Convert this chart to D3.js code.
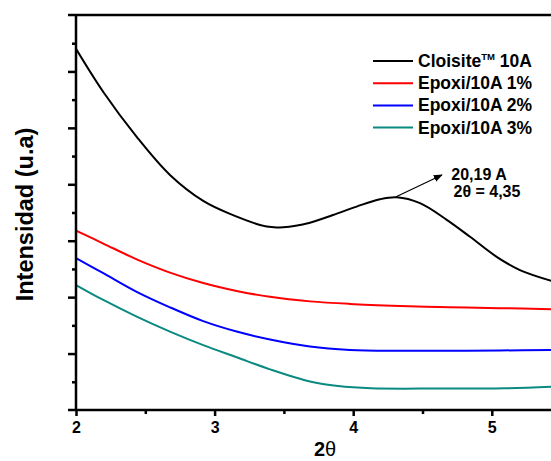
<!DOCTYPE html>
<html><head><meta charset="utf-8">
<script src="https://cdn.jsdelivr.net/npm/d3@7"></script>
<style>
html,body{margin:0;padding:0;background:#fff;}
svg{display:block;font-family:"Liberation Sans",Arial,sans-serif;}
</style></head>
<body><svg id="c" width="551" height="461"></svg>
<script>
// ---- data ----
const seriesNames = ["Cloisite™ 10A", "Epoxi/10A 1%", "Epoxi/10A 2%", "Epoxi/10A 3%"];
const seriesColors = ["#000000", "#ff0000", "#0000ff", "#0a8a80"];
const cloisiteX = [2.0, 2.197, 2.438, 2.678, 2.918, 3.111, 3.376, 3.494, 3.688, 3.854, 4.025, 4.193, 4.314, 4.482, 4.675, 4.843, 5.035, 5.203, 5.45];
const cloisiteY = [12.8, 11.27, 9.68, 8.33, 7.41, 6.95, 6.50, 6.48, 6.64, 6.91, 7.21, 7.47, 7.54, 7.33, 6.74, 6.14, 5.43, 4.96, 4.55];
const epoxi1X = [2.0, 2.197, 2.438, 2.678, 2.918, 3.159, 3.40, 3.688, 3.977, 4.338, 4.698, 5.059, 5.45];
const epoxi1Y = [6.36, 5.90, 5.34, 4.87, 4.50, 4.22, 4.01, 3.85, 3.76, 3.69, 3.64, 3.61, 3.57];
const epoxi2X = [2.0, 2.197, 2.438, 2.678, 2.918, 3.159, 3.40, 3.688, 3.977, 4.338, 4.698, 5.059, 5.45];
const epoxi2Y = [5.38, 4.85, 4.19, 3.64, 3.15, 2.78, 2.50, 2.25, 2.13, 2.10, 2.10, 2.11, 2.13];
const epoxi3X = [2.0, 2.197, 2.438, 2.678, 2.918, 3.159, 3.40, 3.688, 3.89, 4.13, 4.61, 5.09, 5.45];
const epoxi3Y = [4.43, 3.90, 3.31, 2.78, 2.30, 1.87, 1.44, 1.01, 0.85, 0.77, 0.76, 0.77, 0.83];
const xTicks = [2, 3, 4, 5];
const xMinorTicks = [2.5, 3.5, 4.5];
const yMajorTicks = [2, 4, 6, 8, 10, 12];
const yMinorTicks = [1, 3, 5, 7, 9, 11, 13];
const peakPoint = [4.31, 7.56];
const arrowEnd = [4.64, 8.33];
const annotLines = ["20,19 A", "2θ = 4,35"];

// ---- layout ----
const svg = d3.select("#c");
const x = d3.scaleLinear().domain([2, 5.5]).range([76, 76 + 3.5 * 138.6]);
const y = d3.scaleLinear().domain([0, 14]).range([410, 15]);
const W = 551;

svg.append("defs").append("clipPath").attr("id", "clip")
  .append("rect").attr("x", x(2)).attr("y", y(14)).attr("width", W - x(2)).attr("height", y(0) - y(14));

// curves
const series = [
  cloisiteX.map((v, i) => [v, cloisiteY[i]]),
  epoxi1X.map((v, i) => [v, epoxi1Y[i]]),
  epoxi2X.map((v, i) => [v, epoxi2Y[i]]),
  epoxi3X.map((v, i) => [v, epoxi3Y[i]])
];
const line = d3.line().x(d => x(d[0])).y(d => y(d[1])).curve(d3.curveCatmullRom.alpha(0.5));
const g = svg.append("g").attr("clip-path", "url(#clip)");
series.forEach((s, i) => {
  g.append("path").attr("d", line(s)).attr("fill", "none")
    .attr("stroke", seriesColors[i]).attr("stroke-width", 2);
});

// axes
const xAxis = svg.append("g").attr("transform", `translate(0,${y(0)})`)
  .call(d3.axisBottom(x).tickValues(xTicks).tickSize(6).tickPadding(6).tickFormat(d3.format("d")));
xAxis.select(".domain").remove();
xAxis.selectAll(".tick line").attr("stroke-width", 2.5);
xAxis.selectAll("text").attr("font-size", 16).attr("font-weight", "bold").attr("fill", "#000");
svg.append("g").attr("transform", `translate(0,${y(0)})`)
  .call(d3.axisBottom(x).tickValues(xMinorTicks).tickSize(4).tickFormat(""))
  .call(a => a.select(".domain").remove())
  .selectAll(".tick line").attr("stroke-width", 2.5);

const yAxis = svg.append("g").attr("transform", `translate(${x(2)},0)`)
  .call(d3.axisLeft(y).tickValues(yMajorTicks).tickSize(8).tickFormat(""));
yAxis.select(".domain").remove();
yAxis.selectAll(".tick line").attr("stroke-width", 2.5);
svg.append("g").attr("transform", `translate(${x(2)},0)`)
  .call(d3.axisLeft(y).tickValues(yMinorTicks).tickSize(4).tickFormat(""))
  .call(a => a.select(".domain").remove())
  .selectAll(".tick line").attr("stroke-width", 2.5);

// frame lines
svg.append("line").attr("x1", x(2)).attr("x2", x(2)).attr("y1", y(14)).attr("y2", y(0))
  .attr("stroke", "#000").attr("stroke-width", 2.5);
svg.append("line").attr("x1", x(2) - 8).attr("x2", W).attr("y1", y(0)).attr("y2", y(0))
  .attr("stroke", "#000").attr("stroke-width", 2.5);
svg.append("line").attr("x1", x(2) - 8).attr("x2", W).attr("y1", y(14)).attr("y2", y(14))
  .attr("stroke", "#000").attr("stroke-width", 2.5);

// axis titles
const xt = svg.append("text").attr("x", 325).attr("y", 456).attr("text-anchor", "middle")
  .attr("font-size", 20).attr("font-weight", "bold");
xt.append("tspan").text("2");
xt.append("tspan").attr("font-weight", "normal").text("θ");
svg.append("text").attr("transform", `translate(33,${(y(0) + y(14)) / 2 + 2}) rotate(-90)`)
  .attr("text-anchor", "middle").attr("font-size", 23.5).attr("font-weight", "bold")
  .text("Intensidad (u.a)");

// legend
const leg = svg.append("g");
seriesNames.forEach((n, i) => {
  const ly = 61 + i * 22.2;
  leg.append("line").attr("x1", 373).attr("x2", 413).attr("y1", ly).attr("y2", ly)
    .attr("stroke", seriesColors[i]).attr("stroke-width", 2);
  const t = leg.append("text").attr("x", 418).attr("y", ly + 6)
    .attr("font-size", 17.5).attr("font-weight", "bold");
  if (n.includes("™")) {
    const [a, b] = n.split("™");
    t.append("tspan").text(a);
    t.append("tspan").attr("font-size", 9.5).attr("dy", -7).text("TM");
    t.append("tspan").attr("dy", 7).text(b);
  } else t.text(n);
});

// annotation
svg.append("defs").append("marker").attr("id", "arr").attr("viewBox", "0 0 10 10")
  .attr("refX", 9).attr("refY", 5).attr("markerWidth", 9).attr("markerHeight", 9)
  .attr("markerUnits", "userSpaceOnUse").attr("orient", "auto")
  .append("path").attr("d", "M0,1 L10,5 L0,9 Z").attr("fill", "#000");
svg.append("line").attr("x1", x(peakPoint[0])).attr("y1", y(peakPoint[1]))
  .attr("x2", x(arrowEnd[0])).attr("y2", y(arrowEnd[1]))
  .attr("stroke", "#000").attr("stroke-width", 1.2).attr("marker-end", "url(#arr)");
svg.append("text").attr("x", x(4.908)).attr("y", y(8.15)).attr("text-anchor", "middle")
  .attr("font-size", 16).attr("font-weight", "bold").text(annotLines[0]);
svg.append("text").attr("x", x(4.965)).attr("y", y(7.56)).attr("text-anchor", "middle")
  .attr("font-size", 16).attr("font-weight", "bold").text(annotLines[1]);
</script></body></html>
